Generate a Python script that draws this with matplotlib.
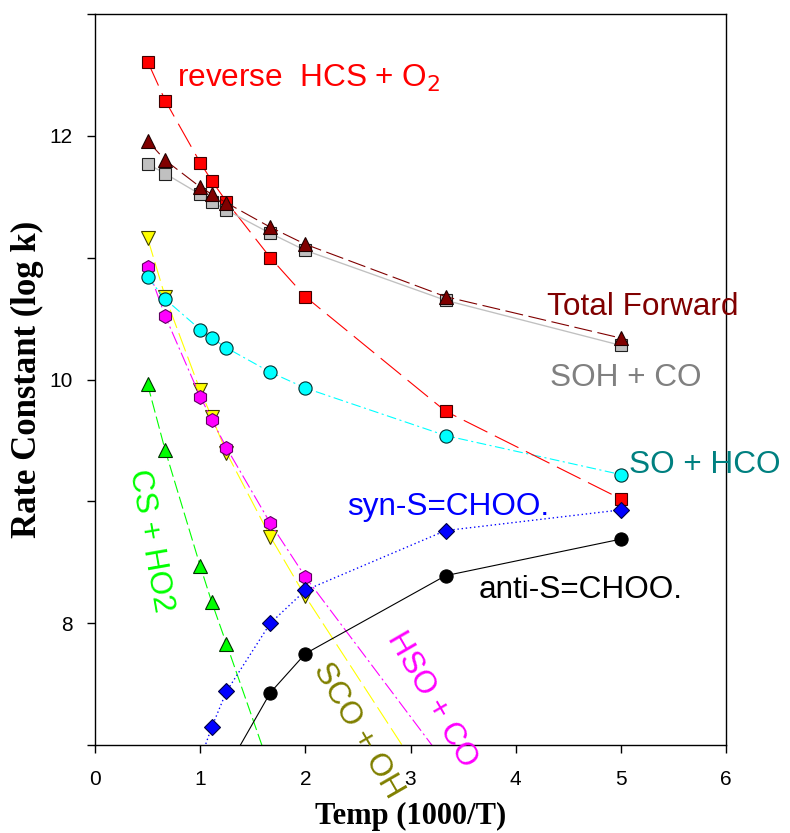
import matplotlib
matplotlib.use('Agg')
import matplotlib.pyplot as plt
import numpy as np

plt.rcParams['font.family'] = ['Liberation Sans', 'DejaVu Sans']
plt.rcParams['lines.scale_dashes'] = False

# 1000/T
temp = [0.5, 0.667, 1.0, 1.111, 1.25, 1.667, 2.0, 3.333, 5.0]

# log k для каждого канала
rev_hcs_o2 = [12.61, 12.29, 11.78, 11.63, 11.46, 11.00, 10.68, 9.74, 9.02]
total_fwd = [11.96, 11.80, 11.58, 11.52, 11.45, 11.25, 11.11, 10.68, 10.34]
soh_co = [11.77, 11.69, 11.52, 11.46, 11.39, 11.20, 11.06, 10.65, 10.28]
so_hco = [10.84, 10.66, 10.41, 10.34, 10.26, 10.06, 9.93, 9.54, 9.22]
hso_co = [10.92, 10.52, 9.86, 9.67, 9.44, 8.82, 8.38, 6.85]
sco_oh = [11.16, 10.68, 9.91, 9.69, 9.40, 8.71, 8.22, 6.45]
cs_ho2 = [9.96, 9.42, 8.47, 8.17, 7.83, 6.80]
syn_x = [1.0, 1.111, 1.25, 1.667, 2.0, 3.333, 5.0]
syn_choo = [6.88, 7.15, 7.44, 8.00, 8.27, 8.76, 8.93]
anti_x = [1.25, 1.667, 2.0, 3.333, 5.0]
anti_choo = [6.80, 7.43, 7.75, 8.39, 8.69]

fig = plt.figure(figsize=(7.9, 8.33), dpi=100)
ax = fig.add_axes([0.1203, 0.1056, 0.7987, 0.8776])

ms = 9
ew = 0.8
lw = 0.8

ax.plot(temp[:len(sco_oh)], sco_oh, color='#FFFF00', lw=lw, dashes=(14, 4),
        marker='v', ms=ms + 1, mfc='#FFFF00', mec='#404000', mew=ew)
ax.plot(temp[:len(hso_co)], hso_co, color='#FF00FF', lw=lw, dashes=(10, 2.5, 1.5, 2.5),
        marker='h', ms=ms + 1, mfc='#FF00FF', mec='#600060', mew=ew)
ax.plot(temp, so_hco, color='#00FFFF', lw=lw, dashes=(7, 2.5, 1.5, 2.5),
        marker='o', ms=ms + 0.5, mfc='#00FFFF', mec='#003030', mew=ew)
ax.plot(temp[:len(cs_ho2)], cs_ho2, color='#00FF00', lw=lw, dashes=(9, 3),
        marker='^', ms=ms + 1, mfc='#00FF00', mec='#003000', mew=ew)
ax.plot(temp, rev_hcs_o2, color='#FF0000', lw=lw, dashes=(19, 6),
        marker='s', ms=ms, mfc='#FF0000', mec='#400000', mew=ew)
ax.plot(temp, soh_co, color='#C0C0C0', lw=lw * 1.2, ls='-',
        marker='s', ms=ms, mfc='#C0C0C0', mec='#202020', mew=ew)
ax.plot(temp, total_fwd, color='#800000', lw=lw, dashes=(13, 4),
        marker='^', ms=ms + 1, mfc='#800000', mec='#200000', mew=ew)
ax.plot(syn_x, syn_choo, color='#0000FF', lw=lw * 1.2, dashes=(1, 2),
        marker='D', ms=ms - 0.5, mfc='#0000FF', mec='#000040', mew=ew)
ax.plot(anti_x, anti_choo, color='black', lw=lw, ls='-',
        marker='o', ms=ms + 0.5, mfc='black', mec='black', mew=ew)

fs = 22.7
ax.text(0.78, 12.40, 'reverse  HCS + O$_2$', color='#FF0000', fontsize=fs,
        ha='left', va='baseline')
ax.text(4.30, 10.53, 'Total Forward', color='#800000', fontsize=fs,
        ha='left', va='baseline')
ax.text(4.325, 9.947, 'SOH + CO', color='#808080', fontsize=fs,
        ha='left', va='baseline')
ax.text(5.076, 9.232, 'SO + HCO', color='#008080', fontsize=fs,
        ha='left', va='baseline')
ax.text(2.395, 8.887, 'syn-S=CHOO.', color='#0000FF', fontsize=fs,
        ha='left', va='baseline')
ax.text(3.65, 8.205, 'anti-S=CHOO.', color='black', fontsize=fs,
        ha='left', va='baseline')
ax.text(0.523, 8.68, 'CS + HO2', color='#00FF00', fontsize=fs, rotation=-80,
        ha='center', va='center', rotation_mode='anchor')
ax.text(2.50, 7.12, 'SCO + OH', color='#808000', fontsize=fs, rotation=-60,
        ha='center', va='center', rotation_mode='anchor')
ax.text(3.20, 7.37, 'HSO + CO', color='#FF00FF', fontsize=fs, rotation=-60,
        ha='center', va='center', rotation_mode='anchor')

ax.set_xlim(0, 6)
ax.set_ylim(7, 13)
ax.set_xticks(np.arange(0, 7, 1))
ax.set_yticks([8, 10, 12])
ax.set_yticks([7, 9, 11, 13], minor=True)
ax.tick_params(axis='both', which='both', direction='out', length=6, width=1,
               labelsize=15, top=False, right=False)
ax.tick_params(axis='y', pad=10)
ax.tick_params(axis='x', pad=12)
for s in ax.spines.values():
    s.set_linewidth(1)

ax.set_xlabel('Temp (1000/T)', fontsize=22, fontweight='bold',
              family='Liberation Serif', labelpad=9)
ax.set_ylabel('Rate Constant (log k)', fontsize=25, fontweight='bold',
              family='Liberation Serif', labelpad=4)

fig.savefig('out.png', dpi=100)
